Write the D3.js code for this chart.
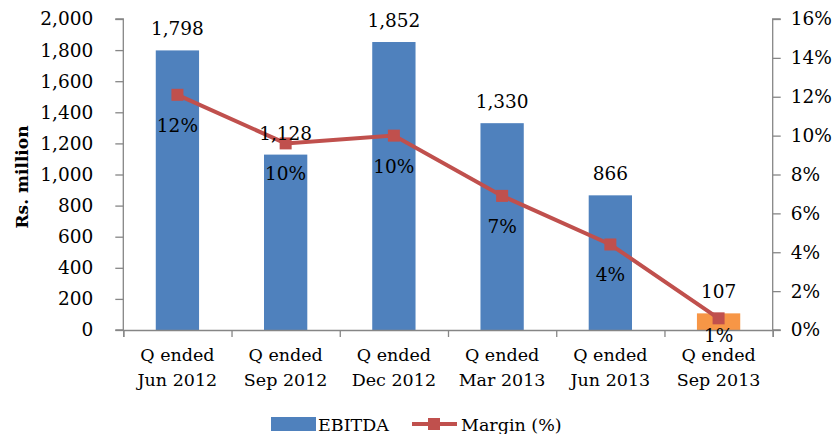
<!DOCTYPE html>
<html>
<head>
<meta charset="utf-8">
<script src="https://cdn.jsdelivr.net/npm/d3@7"></script>
<style>
  body { margin: 0; background: #fff; }
  text { font-family: "DejaVu Serif", serif; fill: #000; }
</style>
</head>
<body>
<svg id="chart" width="840" height="434"></svg>
<script>
// --- data ---
const quarters = [
  ["Q ended", "Jun 2012"],
  ["Q ended", "Sep 2012"],
  ["Q ended", "Dec 2012"],
  ["Q ended", "Mar 2013"],
  ["Q ended", "Jun 2013"],
  ["Q ended", "Sep 2013"]
];
const ebitda = [1798, 1128, 1852, 1330, 866, 107];
const margin = [12.1, 9.6, 10.0, 6.9, 4.4, 0.6];
const marginLabels = ["12%", "10%", "10%", "7%", "4%", "1%"];
const leftTicks = [0, 200, 400, 600, 800, 1000, 1200, 1400, 1600, 1800, 2000];
const rightTicks = [0, 2, 4, 6, 8, 10, 12, 14, 16];

const blue = "#4F81BD", orange = "#F79646", red = "#C0504D", axisGrey = "#868686";
const fs = "18.5px";

const svg = d3.select("#chart");
const plot = { left: 123.3, right: 772.7, top: 19, bottom: 330 };

// scales
const x = d3.scaleBand()
  .domain(d3.range(quarters.length))
  .range([plot.left, plot.right])
  .paddingInner(0.6)
  .paddingOuter(0.3);
const xBounds = d3.scaleLinear().domain([0, quarters.length]).range([plot.left, plot.right]);
const yL = d3.scaleLinear().domain([0, 2000]).range([plot.bottom, plot.top]);
const yR = d3.scaleLinear().domain([0, 16]).range([plot.bottom, plot.top]);
const cx = i => x(i) + x.bandwidth() / 2;

// --- bars ---
svg.append("g").selectAll("rect")
  .data(ebitda)
  .join("rect")
  .attr("x", (d, i) => x(i))
  .attr("y", d => yL(d))
  .attr("width", x.bandwidth())
  .attr("height", d => yL(0) - yL(d))
  .attr("fill", (d, i) => i === ebitda.length - 1 ? orange : blue);

// --- axes ---
const leftAxis = svg.append("g")
  .attr("transform", `translate(${plot.left},0)`)
  .call(d3.axisLeft(yL).tickValues(leftTicks).tickSize(8).tickFormat(d3.format(",")));
const rightAxis = svg.append("g")
  .attr("transform", `translate(${plot.right},0)`)
  .call(d3.axisRight(yR).tickValues(rightTicks).tickSize(8).tickFormat(d => d + "%"));
const bottomAxis = svg.append("g")
  .attr("transform", `translate(0,${plot.bottom})`)
  .call(d3.axisBottom(xBounds).tickValues(d3.range(quarters.length + 1)).tickSize(7).tickFormat(""));

[leftAxis, rightAxis, bottomAxis].forEach(g => {
  g.select(".domain").attr("stroke", axisGrey).attr("stroke-width", 1.3);
  g.selectAll(".tick line").attr("stroke", axisGrey).attr("stroke-width", 1.3);
  g.selectAll(".tick text").style("font-family", "DejaVu Serif").style("font-size", fs).attr("fill", "#000");
});
leftAxis.selectAll(".tick text").attr("x", -30);
rightAxis.selectAll(".tick text").attr("x", 18);
rightAxis.select(".domain").attr("d", `M8,${plot.top}H0V${plot.bottom}H8`);
leftAxis.select(".domain").attr("d", `M-8,${plot.top}H0V${plot.bottom}H-8`);

// category labels (two lines)
const cat = svg.append("g").selectAll("text")
  .data(quarters)
  .join("text")
  .attr("x", (d, i) => cx(i))
  .attr("text-anchor", "middle")
  .style("font-size", "17.5px");
cat.append("tspan").attr("x", (d, i) => cx(i)).attr("y", 361).text(d => d[0]);
cat.append("tspan").attr("x", (d, i) => cx(i)).attr("y", 386).text(d => d[1]);

// y axis title
svg.append("text")
  .attr("transform", `translate(28,177) rotate(-90)`)
  .attr("text-anchor", "middle")
  .style("font-size", "17px")
  .style("font-weight", "bold")
  .text("Rs. million");

// --- margin line ---
const line = d3.line().x((d, i) => cx(i)).y(d => yR(d));
svg.append("path")
  .datum(margin)
  .attr("d", line)
  .attr("fill", "none")
  .attr("stroke", red)
  .attr("stroke-width", 4);
svg.append("g").selectAll("rect")
  .data(margin)
  .join("rect")
  .attr("x", (d, i) => cx(i) - 6)
  .attr("y", d => yR(d) - 6)
  .attr("width", 12)
  .attr("height", 12)
  .attr("fill", red);

// --- data labels ---
svg.append("g").selectAll("text")
  .data(ebitda)
  .join("text")
  .attr("x", (d, i) => cx(i))
  .attr("y", d => yL(d) - 15)
  .attr("text-anchor", "middle")
  .style("font-size", fs)
  .text(d => d3.format(",")(d));

// margin labels sit below the marker, kept close to the plot bottom
svg.append("g").selectAll("text")
  .data(margin)
  .join("text")
  .attr("x", (d, i) => cx(i))
  .attr("y", d => Math.min(yR(d) + 37, plot.bottom + 12))
  .attr("text-anchor", "middle")
  .style("font-size", fs)
  .text((d, i) => marginLabels[i]);

// --- legend ---
const legend = svg.append("g");
legend.append("rect").attr("x", 271).attr("y", 417).attr("width", 45).attr("height", 14).attr("fill", blue);
legend.append("text").attr("x", 318).attr("y", 431).style("font-size", "17.5px").text("EBITDA");
legend.append("line").attr("x1", 412).attr("x2", 457).attr("y1", 424).attr("y2", 424)
  .attr("stroke", red).attr("stroke-width", 4);
legend.append("rect").attr("x", 428).attr("y", 418).attr("width", 12).attr("height", 12).attr("fill", red);
legend.append("text").attr("x", 461).attr("y", 431).style("font-size", "17.5px").text("Margin (%)");
</script>
</body>
</html>
